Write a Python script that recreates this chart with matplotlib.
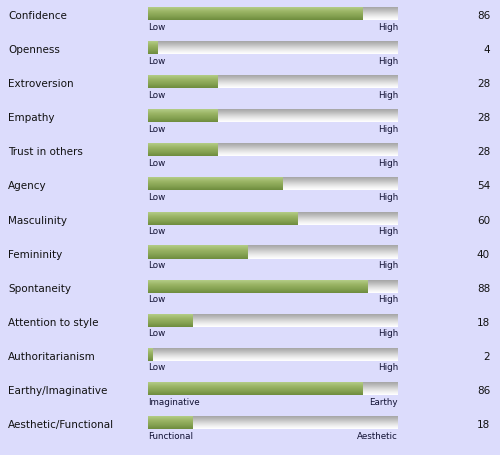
import numpy as np
import matplotlib
matplotlib.use("Agg")
from matplotlib import pyplot as plt
from matplotlib.colors import LinearSegmentedColormap

# data
traits = ["Confidence", "Openness", "Extroversion", "Empathy", "Trust in others",
          "Agency", "Masculinity", "Femininity", "Spontaneity", "Attention to style",
          "Authoritarianism", "Earthy/Imaginative", "Aesthetic/Functional"]
scores = [86, 4, 28, 28, 28, 54, 60, 40, 88, 18, 2, 86, 18]
low_labels = ["Low"] * 11 + ["Imaginative", "Functional"]
high_labels = ["High"] * 11 + ["Earthy", "Aesthetic"]

bg = "#dcdcfc"
fig = plt.figure(figsize=(5, 4.56), dpi=100, facecolor=bg)
ax = fig.add_axes([0, 0, 1, 1])
ax.set_xlim(0, 500)
ax.set_ylim(456, 0)
ax.axis("off")
ax.set_facecolor(bg)

green = LinearSegmentedColormap.from_list("g", ["#b3cc86", "#9bb565", "#86a353", "#6f8d3e"])
track = LinearSegmentedColormap.from_list("t", ["#a6a6a6", "#bdbdbd", "#d8d8d8", "#efefef", "#ffffff"])
grad = np.linspace(0, 1, 32).reshape(-1, 1)

x0, bw = 148, 250
step = 34.1
for i, (name, v) in enumerate(zip(traits, scores)):
    top = 8 + i * step
    bot = top + 13
    ax.text(8, top + 8, name, fontsize=7.5, va="center", ha="left", color="#111111")
    ax.imshow(grad, cmap=track, aspect="auto", extent=(x0, x0 + bw, bot, top),
              interpolation="bilinear", zorder=1)
    ax.imshow(grad, cmap=green, aspect="auto", extent=(x0, x0 + bw * v / 100.0, bot, top),
              interpolation="bilinear", zorder=2)
    ax.text(x0, bot + 6, low_labels[i], fontsize=6.3, va="center", ha="left", color="#111133")
    ax.text(x0 + bw, bot + 6, high_labels[i], fontsize=6.3, va="center", ha="right", color="#111133")
    ax.text(490, top + 8, str(v), fontsize=7.5, va="center", ha="right", color="#111111")

ax.set_xlim(0, 500)
ax.set_ylim(456, 0)
fig.savefig("out.png", dpi=100, facecolor=bg)
